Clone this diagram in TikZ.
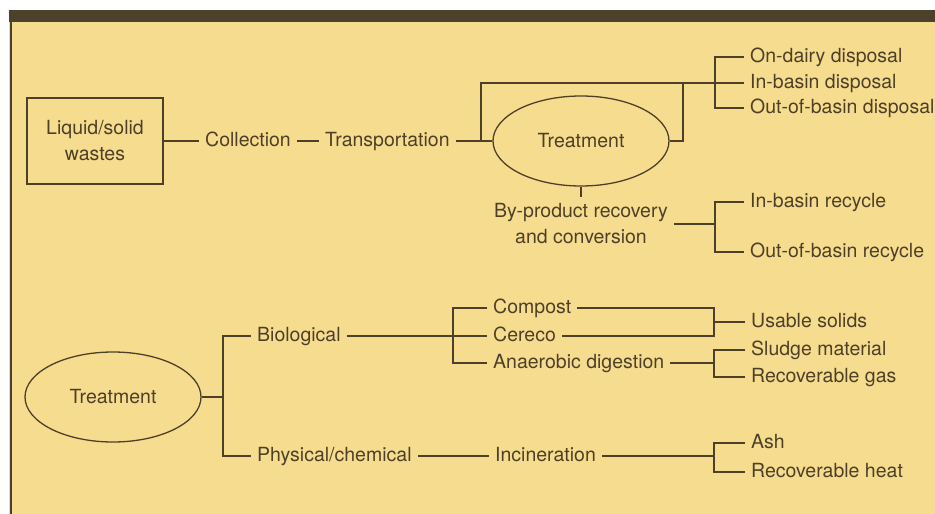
\documentclass[tikz,border=0pt]{standalone}
\usepackage{fontspec}
\setmainfont{TeX Gyre Heros}
\usetikzlibrary{shapes.geometric,calc}
\definecolor{bgyel}{RGB}{246,220,142}
\definecolor{ink}{RGB}{78,64,40}
\definecolor{barcol}{RGB}{76,66,44}
\begin{document}
\begin{tikzpicture}[x=1pt,y=-1pt,
  every node/.style={text=ink,font=\fontsize{19.5}{26}\selectfont},
  lbl/.style={inner xsep=6pt,inner ysep=0pt,anchor=west,text height=14pt,text depth=4pt},
  ctr/.style={inner xsep=6pt,inner ysep=0pt,align=center},
  ell/.style={draw=ink,line width=1.3pt,ellipse,minimum width=176pt,minimum height=90pt,inner sep=0pt},
  boxn/.style={draw=ink,line width=1.3pt,minimum width=136pt,minimum height=86pt,align=center,inner sep=0pt},
  conn/.style={draw=ink,line width=1.3pt}]
\useasboundingbox (0,0) rectangle (935,514);
\fill[white] (0,0) rectangle (935,514);
\fill[bgyel] (9,10) rectangle (935,514);
\fill[barcol] (9,10) rectangle (935,22);
\draw[ink,line width=1.6pt] (11,22) -- (11,514);

% upper part
\node[boxn] (box) at (95,141) {Liquid/solid\\wastes};
\node[lbl] (coll) at (199,141) {Collection};
\node[lbl] (trans) at (319,141) {Transportation};
\node[ell] (T1) at (581,141) {Treatment};
\coordinate (aL) at (481,83);
\coordinate (aR) at (683,83);
\coordinate (dv) at (715,83);
\node[lbl] (ondairy) at (744,57) {On-dairy disposal};
\node[lbl] (inbd) at (744,83) {In-basin disposal};
\node[lbl] (outbd) at (744,108) {Out-of-basin disposal};
\node[ctr] (byp) at (581,224) {By-product recovery\\and conversion};
\coordinate (rv) at (715,225);
\node[lbl] (inrec) at (744,202) {In-basin recycle};
\node[lbl] (outrec) at (744,252) {Out-of-basin recycle};

\draw[conn] (box.east) -- (coll.west);
\draw[conn] (coll.east) -- (trans.west);
\draw[conn] (trans.east) -- (T1.west);
\draw[conn] (T1.west -| aL) -- (aL) -- (inbd.west);
\draw[conn] (T1.east) -- (T1.east -| aR) -- (aR);
\draw[conn] (ondairy.west) -- (ondairy.west -| dv) -- (outbd.west -| dv) -- (outbd.west);
\draw[conn] (T1.south) -- ([yshift=7pt]byp.north);
\draw[conn] (byp.east) -- (byp.east -| rv);
\draw[conn] (inrec.west) -- (inrec.west -| rv) -- (outrec.west -| rv) -- (outrec.west);

% lower part
\node[ell] (T2) at (113,397) {Treatment};
\coordinate (tv) at (223,397);
\node[lbl] (bio) at (251,336) {Biological};
\node[lbl] (phys) at (251,456) {Physical/chemical};
\coordinate (bv) at (453,336);
\node[lbl] (comp) at (487,308) {Compost};
\node[lbl] (cere) at (487,336) {Cereco};
\node[lbl] (anae) at (487,363) {Anaerobic digestion};
\coordinate (uv) at (714,322);
\node[lbl] (usab) at (745,322) {Usable solids};
\coordinate (sv) at (714,363);
\node[lbl] (sludge) at (745,350) {Sludge material};
\node[lbl] (rgas) at (745,377) {Recoverable gas};
\node[lbl] (incin) at (489,456) {Incineration};
\coordinate (iv) at (714,456);
\node[lbl] (ash) at (745,443) {Ash};
\node[lbl] (rheat) at (745,472) {Recoverable heat};

\draw[conn] (T2.east) -- (tv);
\draw[conn] (bio.west) -- (bio.west -| tv) -- (phys.west -| tv) -- (phys.west);
\draw[conn] (bio.east) -- (cere.west);
\draw[conn] (comp.west) -- (comp.west -| bv) -- (anae.west -| bv) -- (anae.west);
\draw[conn] (comp.east) -- (comp.east -| uv) -- (cere.east -| uv) -- (cere.east);
\draw[conn] (uv) -- (usab.west);
\draw[conn] (anae.east) -- (anae.east -| sv);
\draw[conn] (sludge.west) -- (sludge.west -| sv) -- (rgas.west -| sv) -- (rgas.west);
\draw[conn] (phys.east) -- (incin.west);
\draw[conn] (incin.east) -- (incin.east -| iv);
\draw[conn] (ash.west) -- (ash.west -| iv) -- (rheat.west -| iv) -- (rheat.west);
\end{tikzpicture}
\end{document}
